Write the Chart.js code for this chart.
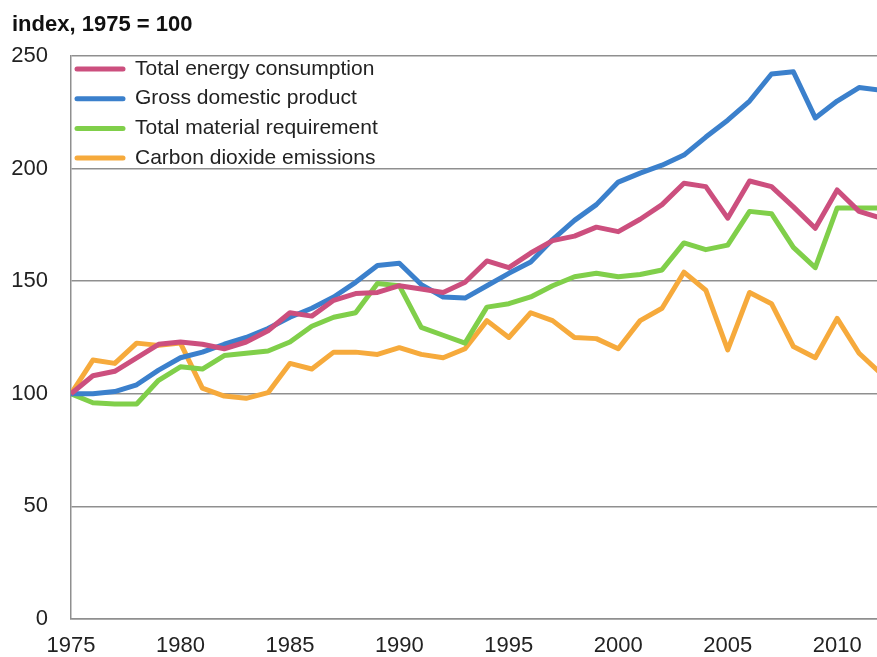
<!DOCTYPE html>
<html>
<head>
<meta charset="utf-8">
<script src="https://cdn.jsdelivr.net/npm/chart.js@4.4.0/dist/chart.umd.min.js"></script>
<style>
  body { margin: 0; background: #fff; }
  #wrap { width: 877px; height: 657px; }
</style>
</head>
<body>
<div id="wrap"><canvas id="myChart" width="877" height="657"></canvas></div>
<script>
// index, 1975 = 100
const years = [
  1975, 1976, 1977, 1978, 1979, 1980, 1981, 1982, 1983, 1984,
  1985, 1986, 1987, 1988, 1989, 1990, 1991, 1992, 1993, 1994,
  1995, 1996, 1997, 1998, 1999, 2000, 2001, 2002, 2003, 2004,
  2005, 2006, 2007, 2008, 2009, 2010, 2011, 2012,
];
const energy = [
  100, 108, 110, 116, 122, 123, 122, 120, 123, 128,
  136, 134.5, 141.5, 144.5, 145, 148, 146.5, 145, 149.5, 159,
  156, 162.5, 168, 170, 174, 172, 177.5, 184, 193.5, 192,
  178, 194.5, 192, 183, 173.5, 190.5, 181, 178,
];
const gdp = [
  100, 100, 101, 104, 110.5, 116, 118.5, 122, 125, 129,
  134, 138, 143, 149.5, 157, 158, 148.5, 143, 142.5, 148,
  153.5, 158.5, 168.5, 177, 184, 194, 198, 201.5, 206, 214,
  221.5, 230, 242, 243, 222.5, 230, 236, 234.8,
];
const material = [
  100, 96, 95.5, 95.5, 106, 112, 111, 117, 118, 119,
  123, 130, 134, 136, 149, 148, 129.5, 126, 122.5, 138.5,
  140, 143, 148, 152, 153.5, 152, 153, 155, 167, 164,
  166, 181, 180, 165, 156, 182.5, 182.5, 182.5,
];
const co2 = [
  100, 115, 113.5, 122.5, 121.5, 122.5, 102.5, 99, 98, 100.5,
  113.5, 111, 118.5, 118.5, 117.5, 120.5, 117.5, 116, 120, 132.5,
  125, 136, 132.5, 125, 124.5, 120, 132.5, 138, 154, 146,
  119.5, 145, 140, 121, 116, 133.5, 118, 109,
];
const seriesLabels = [
  "Total energy consumption",
  "Gross domestic product",
  "Total material requirement",
  "Carbon dioxide emissions",
];
const colors = ["#cc4f7e", "#3b80cc", "#80cf4a", "#f6aa3c"];

Chart.defaults.font.family = "'Liberation Sans', Arial, sans-serif";
Chart.defaults.color = "#222";

function toPoints(values) {
  return values.map((v, i) => ({ x: years[i], y: v }));
}

// legend drawn inside the plot, top left
const innerLegend = {
  id: "innerLegend",
  afterDatasetsDraw(chart) {
    const ctx = chart.ctx;
    ctx.save();
    ctx.font = "21px 'Liberation Sans', Arial, sans-serif";
    ctx.textBaseline = "middle";
    ctx.lineCap = "round";
    chart.data.datasets.forEach((ds, i) => {
      const y = 69 + i * 29.7;
      ctx.strokeStyle = ds.borderColor;
      ctx.lineWidth = 5;
      ctx.beginPath();
      ctx.moveTo(77, y);
      ctx.lineTo(123, y);
      ctx.stroke();
      ctx.fillStyle = "#222";
      ctx.fillText(ds.label, 135, y);
    });
    ctx.restore();
  },
};

const config = {
  type: "line",
  data: {
    datasets: [
      { label: seriesLabels[0], data: toPoints(energy), borderColor: colors[0] },
      { label: seriesLabels[1], data: toPoints(gdp), borderColor: colors[1] },
      { label: seriesLabels[2], data: toPoints(material), borderColor: colors[2] },
      { label: seriesLabels[3], data: toPoints(co2), borderColor: colors[3] },
    ],
  },
  options: {
    responsive: false,
    animation: false,
    layout: { padding: { left: 12, right: 0, top: 0, bottom: 0 } },
    elements: {
      line: { borderWidth: 5, tension: 0, borderJoinStyle: "round" },
      point: { radius: 0 },
    },
    plugins: {
      legend: { display: false },
      tooltip: { enabled: false },
      title: {
        display: true,
        text: "index, 1975 = 100",
        align: "start",
        color: "#111",
        font: { size: 22, weight: "bold" },
        padding: { top: 12, bottom: 17.6 },
      },
    },
    scales: {
      x: {
        type: "linear",
        min: 1975,
        max: 2011.82,
        grid: { display: false, drawTicks: false },
        border: { color: "#8f8f8f", width: 1.5 },
        ticks: {
          stepSize: 5,
          includeBounds: false,
          padding: 14,
          font: { size: 22 },
          callback: (v) => String(v),
        },
        afterFit: (s) => { s.height = 38; },
      },
      y: {
        min: 0,
        max: 250,
        grid: { color: "#8f8f8f", lineWidth: 1.5, drawTicks: false },
        border: { color: "#8f8f8f", width: 1.5 },
        ticks: { stepSize: 50, padding: 23, font: { size: 22 } },
        afterFit: (s) => { s.width = 59; },
      },
    },
  },
  plugins: [innerLegend],
};

new Chart(document.getElementById("myChart"), config);
</script>
</body>
</html>
